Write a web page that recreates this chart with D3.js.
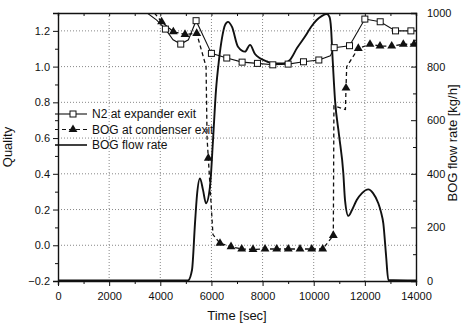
<!DOCTYPE html>
<html>
<head>
<meta charset="utf-8">
<script src="https://cdn.jsdelivr.net/npm/d3@7"></script>
<style>
	body { margin: 0; background: #fff; }
	text { font-family: "Liberation Sans", Arial, sans-serif; fill: #111; }
	.axis path, .axis line { stroke: #111; }
	.grid line { stroke: #888; stroke-dasharray: 1,2; }
</style>
</head>
<body>
<div id="chart"></div>
<script>
//Time axis ticks
var timeTicks = [0, 2000, 4000, 6000, 8000, 10000, 12000, 14000];
var qualityTicks = [-0.2, 0.0, 0.2, 0.4, 0.6, 0.8, 1.0, 1.2];
var flowTicks = [0, 200, 400, 600, 800, 1000];

//N2 at expander exit (quality)
var n2Time =    [3300, 3860, 4200, 4500, 4800, 5100, 5400, 6000, 6600, 7200, 7800, 8400, 9000, 9600, 10200, 10650, 10800, 11400, 12000, 12600, 13200, 13800, 14000];
var n2Quality = [1.32, 1.26, 1.21, 1.15, 1.126, 1.15, 1.257, 1.074, 1.048, 1.025, 1.018, 1.01, 1.014, 1.027, 1.037, 1.06, 1.106, 1.117, 1.266, 1.251, 1.2, 1.2, 1.2];
var n2MarkerTime = [4200, 4800, 5400, 6000, 6600, 7200, 7800, 8400, 9000, 9600, 10200, 10800, 11400, 12000, 12600, 13200, 13800];

//BOG at condenser exit (quality)
var bogTime =    [3600, 4050, 4510, 4967, 5424, 5790, 5830, 5878, 6060, 6335, 6766, 7184, 7626, 8096, 8553, 9006, 9464, 9922, 10352, 10767, 10790, 11240, 11263, 11290, 11744, 12202, 12593, 13050, 13504, 13923, 14000];
var bogQuality = [1.33, 1.251, 1.195, 1.18, 1.186, 1.0, 0.6, 0.488, 0.06, 0.011, -0.008, -0.021, -0.023, -0.021, -0.021, -0.021, -0.021, -0.021, -0.021, 0.055, 0.78, 0.76, 0.88, 1.0, 1.102, 1.125, 1.115, 1.115, 1.125, 1.125, 1.125];
var bogMarkerTime = [4050, 4510, 4967, 5424, 5878, 6335, 6766, 7184, 7626, 8096, 8553, 9006, 9464, 9922, 10352, 10767, 11263, 11744, 12202, 12593, 13050, 13504, 13923];

//BOG flow rate (kg/h)
var flowTime = [0, 5084, 5240, 5358, 5436, 5553, 5670, 5788, 5944, 6062, 6179, 6296, 6414, 6531, 6648, 6805, 7039, 7313, 7509, 7704, 7900, 8174, 8420, 8811, 9073, 9347, 9660, 9895, 10117, 10325, 10508, 10618, 10677, 10735, 10833, 10989, 11158, 11224, 11353, 11498, 11682, 11889, 12135, 12319, 12526, 12632, 12722, 12828, 12918, 14000];
var flowRate = [2, 2, 41, 216, 321, 383, 340, 290, 352, 526, 713, 825, 907, 955, 967, 948, 874, 856, 881, 847, 831, 819, 812, 812, 825, 869, 912, 948, 974, 989, 996, 985, 944, 837, 675, 545, 402, 302, 243, 265, 302, 328, 342, 328, 290, 257, 215, 97, 4, 2];

var legendData = [
	{ Text: "N2 at expander exit", Kind: "n2" },
	{ Text: "BOG at condenser exit", Kind: "bog" },
	{ Text: "BOG flow rate", Kind: "flow" }
];

//SVG setup
var margin = { top: 13, right: 49, bottom: 47, left: 58 };
var width = 358;
var height = 268;

var svg = d3.select('#chart')
	.append('svg')
	.attr('width', 465)
	.attr('height', 328)
	.append('g')
	.attr('transform', 'translate(' + margin.left + ',' + margin.top + ')');

//Scales
var x = d3.scaleLinear().domain([0, 14000]).range([0, width]);
var y0 = d3.scaleLinear().domain([-0.2, 1.3]).range([height, 0]);
var y1 = d3.scaleLinear().domain([0, 1000]).range([height, 0]);

svg.append("clipPath")
	.attr("id", "plotClip")
	.append("rect")
	.attr("width", width)
	.attr("height", height);

//Grid lines
svg.append("g")
	.attr("class", "grid")
	.selectAll("line.v")
	.data(timeTicks.slice(1, -1))
	.enter()
	.append("line")
	.attr("x1", function(d) { return x(d); })
	.attr("x2", function(d) { return x(d); })
	.attr("y1", 0)
	.attr("y2", height);
svg.append("g")
	.attr("class", "grid")
	.selectAll("line.h")
	.data(qualityTicks.slice(1))
	.enter()
	.append("line")
	.attr("x1", 0)
	.attr("x2", width)
	.attr("y1", function(d) { return y0(d); })
	.attr("y2", function(d) { return y0(d); });

var plot = svg.append("g").attr("clip-path", "url(#plotClip)");

//BOG flow rate line
var flowLine = d3.line()
	.x(function(d, i) { return x(flowTime[i]); })
	.y(function(d) { return y1(d); })
	.curve(d3.curveMonotoneX);
plot.append("path")
	.datum(flowRate)
	.attr("fill", "none")
	.attr("stroke", "#111")
	.attr("stroke-width", 1.9)
	.attr("d", flowLine);

//N2 line
var n2Line = d3.line()
	.x(function(d, i) { return x(n2Time[i]); })
	.y(function(d) { return y0(d); });
plot.append("path")
	.datum(n2Quality)
	.attr("fill", "none")
	.attr("stroke", "#111")
	.attr("stroke-width", 1.1)
	.attr("d", n2Line);

//BOG quality line
var bogLine = d3.line()
	.x(function(d, i) { return x(bogTime[i]); })
	.y(function(d) { return y0(d); });
plot.append("path")
	.datum(bogQuality)
	.attr("fill", "none")
	.attr("stroke", "#111")
	.attr("stroke-width", 1.3)
	.attr("stroke-dasharray", "4,3")
	.attr("d", bogLine);

var triangle = d3.symbol().type(d3.symbolTriangle).size(34);

//markers
plot.selectAll(".n2mark")
	.data(n2MarkerTime)
	.enter()
	.append("rect")
	.attr("class", "n2mark")
	.attr("x", function(d) { return x(d) - 3; })
	.attr("y", function(d) { return y0(n2Quality[n2Time.indexOf(d)]) - 3; })
	.attr("width", 6)
	.attr("height", 6)
	.attr("fill", "#fff")
	.attr("stroke", "#111");

plot.selectAll(".bogmark")
	.data(bogMarkerTime)
	.enter()
	.append("path")
	.attr("class", "bogmark")
	.attr("d", triangle)
	.attr("fill", "#111")
	.attr("transform", function(d) {
		return "translate(" + x(d) + "," + y0(bogQuality[bogTime.indexOf(d)]) + ")";
	});

//Axes
svg.append("g")
	.attr("class", "x axis")
	.attr("transform", "translate(0," + height + ")")
	.call(d3.axisBottom(x).tickValues(d3.range(0, 14001, 1000)).tickSize(4).tickPadding(7)
		.tickFormat(function(d) { return d % 2000 === 0 ? d : ""; }))
	.selectAll(".tick line")
	.attr("y2", function(d) { return d % 2000 === 0 ? 5 : 3; });

svg.append("g")
	.attr("class", "x axis")
	.call(d3.axisTop(x).tickValues(d3.range(0, 14001, 1000)).tickSize(-3).tickFormat(""));

svg.append("g")
	.attr("class", "y0 axis")
	.call(d3.axisLeft(y0).tickValues(d3.range(-2, 14).map(function(v) { return v / 10; })).tickSize(5).tickPadding(3)
		.tickFormat(function(d) { return Math.round(d * 10) % 2 === 0 ? d3.format(".1f")(d) : ""; }))
	.selectAll(".tick line")
	.attr("x2", function(d) { return Math.round(d * 10) % 2 === 0 ? -5 : -3; });

svg.append("g")
	.attr("class", "y1 axis")
	.attr("transform", "translate(" + width + ",0)")
	.call(d3.axisRight(y1).tickValues(d3.range(0, 1001, 100)).tickSize(-5).tickPadding(11)
		.tickFormat(function(d) { return d % 200 === 0 ? d : ""; }))
	.selectAll(".tick line")
	.attr("x2", function(d) { return d % 200 === 0 ? -5 : -3; });

svg.selectAll(".axis path").attr("stroke-width", 1.4);
svg.selectAll(".axis text").attr("font-size", 11).attr("font-family", "Liberation Sans, Arial, sans-serif").attr("fill", "#111");

//Axis labels
svg.append("text")
	.attr("x", width / 2)
	.attr("y", height + 39)
	.attr("text-anchor", "middle")
	.attr("font-size", 13)
	.text("Time [sec]");

svg.append("text")
	.attr("transform", "rotate(-90)")
	.attr("x", -height / 2)
	.attr("y", -46)
	.attr("text-anchor", "middle")
	.attr("font-size", 13)
	.text("Quality");

svg.append("text")
	.attr("transform", "rotate(-90)")
	.attr("x", -height / 2 + 4)
	.attr("y", width + 41)
	.attr("text-anchor", "middle")
	.attr("font-size", 13)
	.text("BOG flow rate [kg/h]");

//Legend
var legend = svg.selectAll(".legend")
	.data(legendData)
	.enter()
	.append("g")
	.attr("class", "legend")
	.attr("transform", function(d, i) { return "translate(-3," + (101 + i * 15.5) + ")"; });

legend.append("line")
	.attr("x1", 0)
	.attr("x2", 32)
	.attr("stroke", "#111")
	.attr("stroke-width", function(d) { return d.Kind === "flow" ? 1.6 : 1.1; })
	.attr("stroke-dasharray", function(d) { return d.Kind === "bog" ? "4,3" : null; });

legend.filter(function(d) { return d.Kind === "n2"; })
	.append("rect")
	.attr("x", 15)
	.attr("y", -3)
	.attr("width", 6)
	.attr("height", 6)
	.attr("fill", "#fff")
	.attr("stroke", "#111");

legend.filter(function(d) { return d.Kind === "bog"; })
	.append("path")
	.attr("d", triangle)
	.attr("transform", "translate(18,0)")
	.attr("fill", "#111");

legend.append("text")
	.attr("x", 37)
	.attr("dy", "0.36em")
	.attr("font-size", 12)
	.text(function(d) { return d.Text; });
</script>
</body>
</html>
